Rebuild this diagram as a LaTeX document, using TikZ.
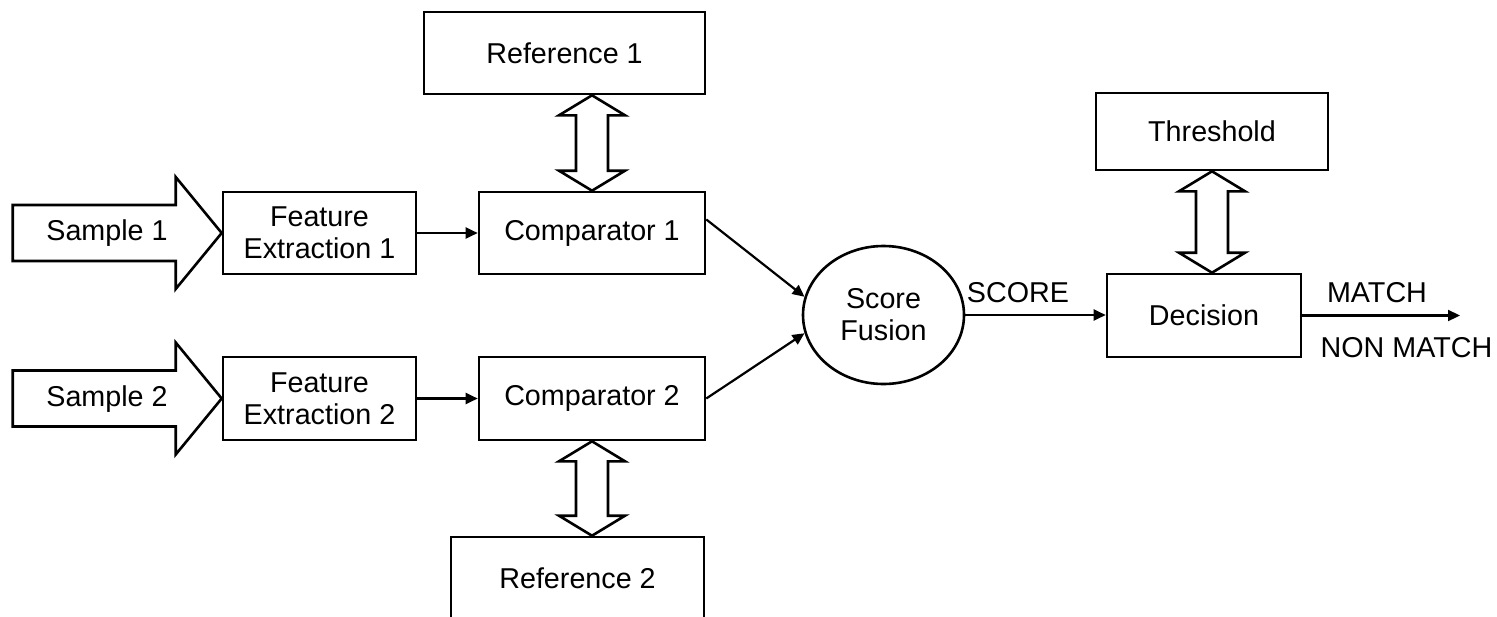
\documentclass[tikz,border=0pt]{standalone}
\usepackage{fontspec}
\setmainfont{Liberation Sans}
\usetikzlibrary{calc,arrows.meta,shapes.geometric}
\tikzset{
  txt/.style={font=\fontsize{28.7}{32}\selectfont},
  box/.style={draw, line width=2.6pt, inner sep=0pt, align=center, txt},
  lbl/.style={inner sep=0pt, align=center, txt},
  arr/.style={line width=2.2pt, -{Triangle[length=12pt,width=11pt]}},
  fat/.style={draw, line width=2.6pt, line join=miter, fill=white},
}
\newcommand\mydblarrow[2]{%
  \draw[fat] let \p1=(#1), \p2=(#2) in
    (\x1,\y1) -- (\x1+33pt,\y1-20pt) -- (\x1+16pt,\y1-20pt) -- (\x1+16pt,\y2+20pt)
    -- (\x1+33pt,\y2+20pt) -- (\x1,\y2) -- (\x1-33pt,\y2+20pt) -- (\x1-16pt,\y2+20pt)
    -- (\x1-16pt,\y1-20pt) -- (\x1-33pt,\y1-20pt) -- cycle;}
\newcommand\mysample[1]{%
  \draw[fat] (#1) -- ++(-46,-56) -- ++(0,28) -- ++(-163,0) -- ++(0,56) -- ++(163,0) -- ++(0,28) -- cycle;}
\begin{document}
\begin{tikzpicture}[x=1pt,y=-1pt]
\useasboundingbox (0,0) rectangle (1497,616);

% boxes
\node[box, minimum width=281pt, minimum height=82pt] (ref1) at (564.5,53) {Reference 1};
\node[box, minimum width=193pt, minimum height=82pt] (fe1) at (319.5,233) {Feature\\Extraction 1};
\node[box, minimum width=193pt, minimum height=83pt] (fe2) at (319.5,398.5) {Feature\\Extraction 2};
\node[box, minimum width=226pt, minimum height=82pt] (comp1) at (592,233) {Comparator 1};
\node[box, minimum width=226pt, minimum height=83pt] (comp2) at (592,398.5) {Comparator 2};
\node[box, minimum width=253pt, minimum height=83pt] (ref2) at (577.5,578.5) {Reference 2};
\node[box, minimum width=232pt, minimum height=77pt] (thr) at (1212,131.5) {Threshold};
\node[box, minimum width=194pt, minimum height=83pt] (dec) at (1204,315.5) {Decision};
\node[box, ellipse, minimum width=161pt, minimum height=138pt] (fusion) at (883.5,315) {Score\\Fusion};

% sample input arrows
\mysample{fe1.west}
\node[lbl] (s1) at (107,233) {Sample 1};
\mysample{fe2.west}
\node[lbl] (s2) at (107,399) {Sample 2};

% double arrows
\mydblarrow{comp1.north |- ref1.south}{comp1.north}
\mydblarrow{comp2.south}{comp2.south |- ref2.north}
\mydblarrow{thr.south}{thr.south |- dec.north}

% connectors
\draw[arr] (fe1.east) -- (comp1.west);
\draw[arr] (fe2.east) -- (comp2.west);
\draw[arr] ($(comp1.north east)!0.34!(comp1.south east)$) -- (fusion.167);
\draw[arr] (comp2.east) -- (fusion.193);
\draw[arr] (fusion.east) -- (fusion.east -| dec.west);
\node[lbl] (score) at (1018,293) {SCORE};
\coordinate (out) at (1460,316);
\draw[arr] (dec.east) -- (dec.east -| out);
\node[lbl] (match) at (1377,293) {MATCH};
\node[lbl] (nonmatch) at (1406.5,348) {NON MATCH};
\end{tikzpicture}
\end{document}
